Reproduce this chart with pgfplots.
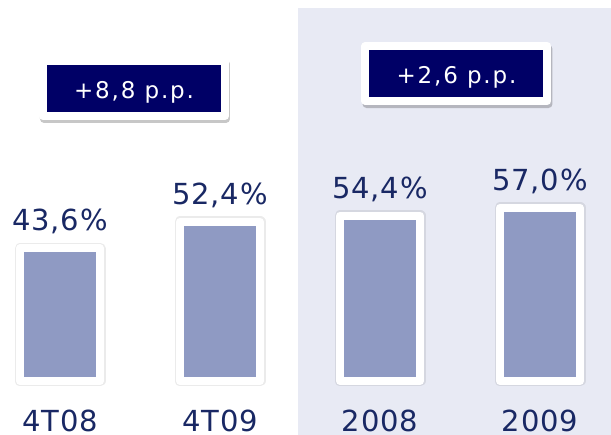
\documentclass[border=0pt]{standalone}
\usepackage{pgfplots}
\pgfplotsset{compat=1.18}
\usepackage{fontspec}
\setmainfont{DejaVu Sans}
\newfontfamily\boxfont[LetterSpace=8]{DejaVu Sans}
\newfontfamily\lblfont[LetterSpace=3]{DejaVu Sans}
\definecolor{navy}{RGB}{0,0,102}
\definecolor{lbl}{RGB}{25,40,100}
\definecolor{barc}{RGB}{143,154,195}
\definecolor{bgshade}{RGB}{232,234,244}
\begin{document}
\begin{tikzpicture}
\begin{axis}[
  scale only axis, width=611pt, height=435pt,
  xmin=-0.375, xmax=3.44375, ymin=-17.763, ymax=125.329,
  axis line style={draw=none}, tick style={draw=none},
  ytick=\empty, xtick=\empty,
  clip=false,
]
\fill[white] (rel axis cs:0,0) rectangle (rel axis cs:1,1);
\fill[bgshade] (rel axis cs:0.4877,0) rectangle (rel axis cs:1,0.98161);
% boxes
\node[fill=black, opacity=0.22, minimum width=190pt, minimum height=63pt,
  rounded corners=4pt, inner sep=0pt] at ([xshift=1pt,yshift=-3pt]rel axis cs:0.2193,0.7966) {};
\node[fill=navy, draw=white, line width=8pt, line join=round, minimum width=182pt,
  minimum height=55pt, inner sep=0pt] at (rel axis cs:0.2193,0.7966) {};
\node[anchor=base, text=white, font=\fontsize{23}{23}\selectfont\boxfont, inner sep=0pt]
  at (rel axis cs:0.2193,0.7724) {+8,8 p.p.};
\node[fill=black, opacity=0.22, minimum width=190pt, minimum height=63pt,
  rounded corners=4pt, inner sep=0pt] at ([xshift=1pt,yshift=-3pt]rel axis cs:0.7471,0.8310) {};
\node[fill=navy, draw=white, line width=8pt, line join=round, minimum width=182pt,
  minimum height=55pt, inner sep=0pt] at (rel axis cs:0.7471,0.8310) {};
\node[anchor=base, text=white, font=\fontsize{23}{23}\selectfont\boxfont, inner sep=0pt]
  at (rel axis cs:0.7471,0.8069) {+2,6 p.p.};
% bar shadows
\addplot[ybar, bar width=80pt, bar shift=0pt, draw=black, draw opacity=0.08,
  line width=11pt, line join=round, fill=none]
  coordinates {(0,43.6) (1,52.4) (2,54.4) (3,57.0)};
% bars
\addplot[ybar, bar width=80pt, bar shift=0pt, fill=barc, draw=white,
  line width=8pt, line join=round,
  nodes near coords={\pgfmathprintnumber[fixed,fixed zerofill,precision=1,use comma,assume math mode=true]{\pgfplotspointmeta}\%},
  every node near coord/.append style={anchor=base, yshift=17.5pt, inner sep=0pt,
    font=\fontsize{29}{29}\selectfont\lblfont, text=lbl}]
  coordinates {(0,43.6) (1,52.4) (2,54.4) (3,57.0)};
% category labels
\addplot[only marks, mark=none, point meta=explicit symbolic,
  nodes near coords,
  every node near coord/.append style={anchor=base, yshift=3.5pt, inner sep=0pt,
    font=\fontsize{29}{29}\selectfont\lblfont, text=lbl}]
  coordinates {(0,-17.763)[4T08] (1,-17.763)[4T09] (2,-17.763)[2008] (3,-17.763)[2009]};
\end{axis}
\end{tikzpicture}
\end{document}
